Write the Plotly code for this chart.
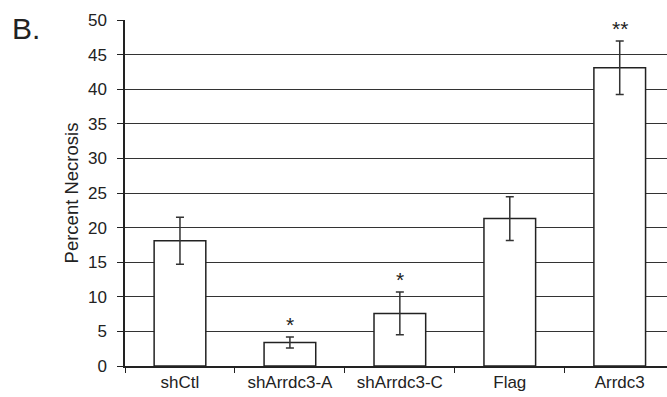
import plotly.graph_objects as go

categories = ["shCtl", "shArrdc3-A", "shArrdc3-C", "Flag", "Arrdc3"]
values = [18.1, 3.4, 7.6, 21.3, 43.1]
errors = [3.4, 0.8, 3.1, 3.15, 3.85]
stars = ["", "*", "*", "", "**"]

FONT = "Liberation Sans, Arial"

fig = go.Figure()
fig.add_trace(go.Bar(
    x=categories, y=values, width=0.47,
    marker=dict(color="white", line=dict(color="#222", width=1.5)),
    error_y=dict(type="data", array=errors, visible=True, color="#333", thickness=1.5, width=4),
))

for c, v, e, s in zip(categories, values, errors, stars):
    if s:
        fig.add_annotation(x=c, y=v + e, text=s, showarrow=False, yanchor="bottom", yshift=-1,
                           font=dict(size=21, color="#222", family=FONT))

fig.add_annotation(text="B.", xref="paper", yref="paper", x=-0.212, y=0.974, xanchor="left", yanchor="middle",
                   showarrow=False, font=dict(size=30, color="#222", family=FONT))

fig.update_layout(
    width=667, height=397,
    margin=dict(l=125, r=0, t=20, b=31),
    paper_bgcolor="white", plot_bgcolor="white",
    showlegend=False,
    font=dict(family=FONT, size=17, color="#222"),
    xaxis=dict(range=[-0.5, 4.43], showline=True, linecolor="#222", linewidth=1.5,
               ticks="outside", tickson="boundaries", ticklen=5, tickcolor="#222",
               showgrid=False, tickfont=dict(size=17)),
    yaxis=dict(range=[0, 50], dtick=5, showline=True, linecolor="#222", linewidth=1.5,
               ticks="outside", ticklen=6, tickcolor="#222", ticklabelstandoff=7,
               showgrid=True, gridcolor="#333", gridwidth=1.2, zeroline=False,
               title=dict(text="Percent Necrosis", font=dict(size=18.5), standoff=4),
               tickfont=dict(size=17)),
)

fig.write_html("out.html")
